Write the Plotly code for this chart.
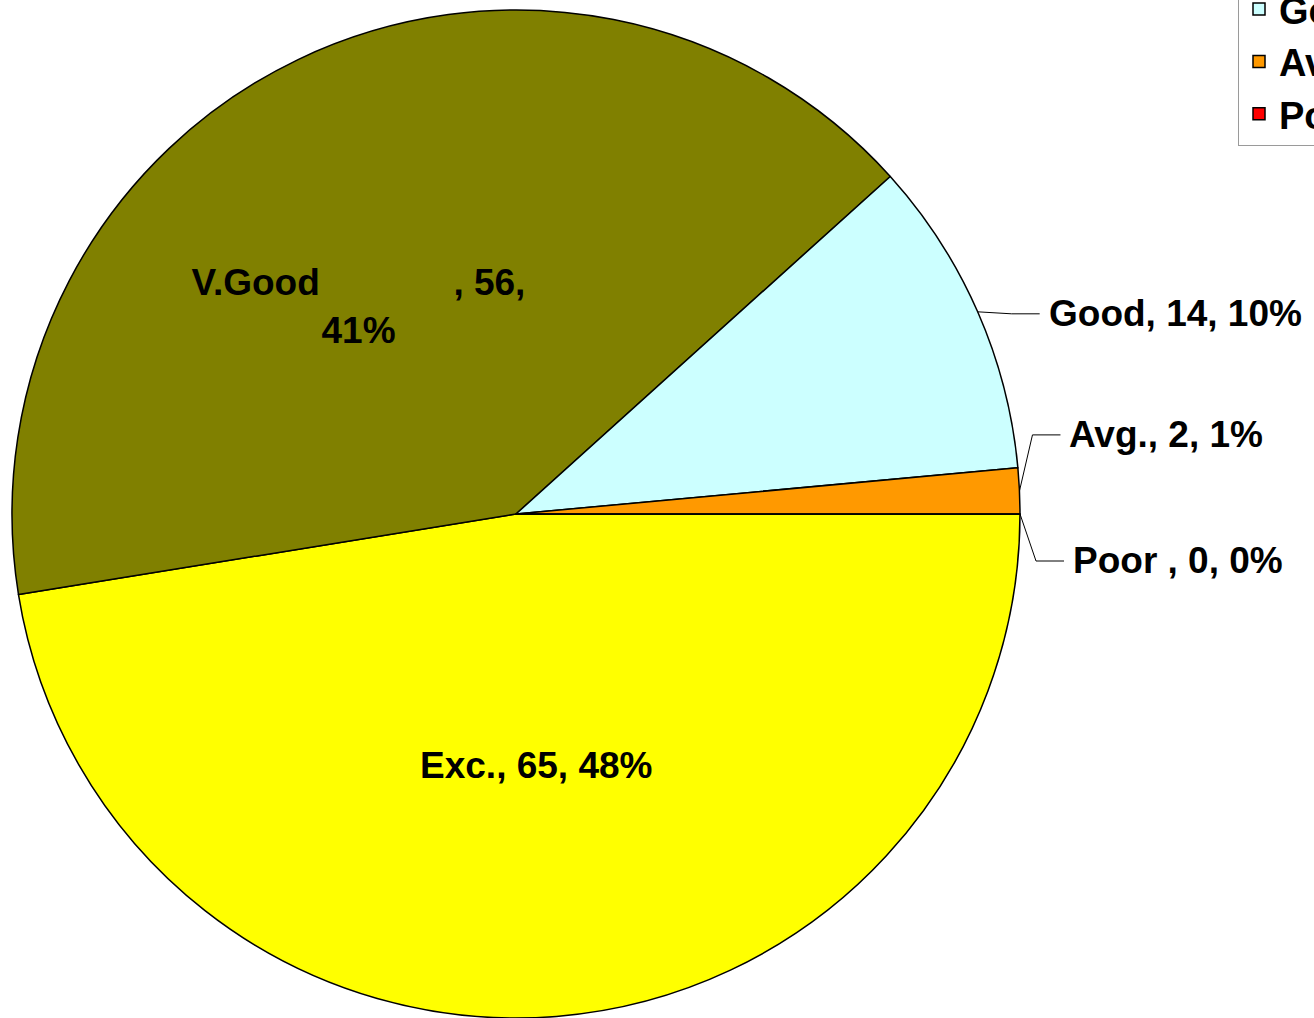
import math
import plotly.graph_objects as go

labels = ["Exc.", "V.Good", "Good", "Avg.", "Poor"]
values = [65, 56, 14, 2, 0]
pct_labels = ["48%", "41%", "10%", "1%", "0%"]
colors = ["#FFFF00", "#808000", "#CCFFFF", "#FF9900", "#FF0000"]
name_text = ["Exc.", "V.Good" + "\u00a0" * 13, "Good", "Avg.", "Poor "]

# layout / style (pixels)
W, H = 1314, 1018
CX, CY, R = 516, 514, 504
inside = [True, True, False, False, False]
# outside-label leader geometry: vertical shift of label, elbow x-offset
label_dy = [0, 0, 2, -56, 47]
elbow_dx = [0, 0, 34, 13, 16]
SEG = 28
GAP = 7
FS = 37

texts = []
for i, (n, v, p) in enumerate(zip(name_text, values, pct_labels)):
    if i == 1:
        pad = "\u00a0" * 9
        texts.append(f"\u00a0<br>{n}, {v},{pad}<br>{p}{pad}")
    elif inside[i]:
        texts.append(f"{n}, {v}, {p}")
    else:
        texts.append("")

fig = go.Figure(go.Pie(
    labels=labels,
    values=values,
    text=texts,
    textinfo="text",
    textposition=["inside" if f else "none" for f in inside],
    insidetextorientation="horizontal",
    sort=False,
    direction="clockwise",
    rotation=90,
    marker=dict(colors=colors, line=dict(color="black", width=1.5)),
    textfont=dict(family="Liberation Sans", size=FS, color="black", weight="bold"),
    domain=dict(x=[(CX - R) / W, (CX + R) / W], y=[1 - (CY + R) / H, 1 - (CY - R) / H]),
    hoverinfo="label+value+percent",
))

total = sum(values)
cum = 0
shapes, annotations = [], []
px = lambda x: x / W
py = lambda y: 1 - y / H
for i, v in enumerate(values):
    mid = (cum + v / 2) / total * 2 * math.pi
    cum += v
    if inside[i]:
        continue
    ex = CX + R * math.cos(mid)
    ey = CY + R * math.sin(mid)
    ly = ey + label_dy[i]
    kx = ex + elbow_dx[i]
    endx = kx + SEG
    shapes.append(dict(
        type="path", xref="paper", yref="paper",
        path=f"M {px(ex)},{py(ey)} L {px(kx)},{py(ly)} L {px(endx)},{py(ly)}",
        line=dict(color="black", width=1),
    ))
    annotations.append(dict(
        x=px(endx + GAP), y=py(ly), xref="paper", yref="paper",
        xanchor="left", yanchor="middle", showarrow=False,
        text=f"{name_text[i]}, {v}, {pct_labels[i]}",
        font=dict(family="Liberation Sans", size=FS, color="black", weight="bold"),
    ))

fig.update_layout(
    width=W, height=H,
    margin=dict(l=0, r=0, t=0, b=0, autoexpand=False),
    paper_bgcolor="white",
    showlegend=True,
    shapes=shapes,
    annotations=annotations,
    legend=dict(
        x=1238 / W, xanchor="left",
        y=(H - 146) / H, yanchor="bottom",
        font=dict(family="Liberation Sans", size=38, color="black", weight="bold"),
        bordercolor="#9a9a9a", borderwidth=1, bgcolor="white",
    ),
)

fig.write_html("out.html", config={"displayModeBar": False},
               post_script="document.body.style.margin='0';")
